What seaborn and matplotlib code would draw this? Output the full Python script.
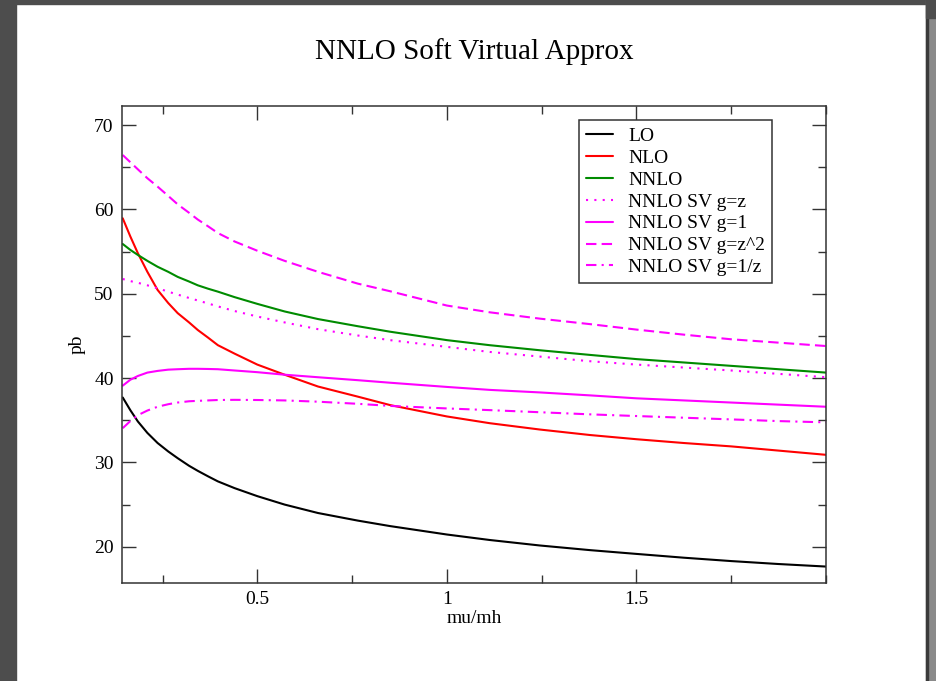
import matplotlib
matplotlib.use("Agg")
import matplotlib.pyplot as plt
from matplotlib.patches import Rectangle
from matplotlib.ticker import MultipleLocator
import seaborn as sns

# values
mu_ratio = [0.145, 0.165, 0.185, 0.21, 0.237, 0.265, 0.29, 0.32, 0.343, 0.37,
            0.396, 0.44, 0.5, 0.572, 0.66, 0.765, 0.85, 1.0, 1.113, 1.245,
            1.377, 1.5, 1.625, 1.75, 1.875, 2.0]
lo = [37.7, 36.2, 34.85, 33.5, 32.3, 31.3, 30.5, 29.6, 29.0, 28.35,
      27.75, 26.95, 26.0, 25.0, 24.0, 23.1, 22.45, 21.45, 20.8, 20.15,
      19.6, 19.15, 18.7, 18.3, 17.95, 17.65]
nlo = [58.95, 56.8, 54.8, 52.6, 50.45, 48.9, 47.7, 46.6, 45.7, 44.8,
       43.9, 42.9, 41.6, 40.4, 39.0, 37.8, 36.8, 35.45, 34.65, 33.9,
       33.25, 32.75, 32.3, 31.9, 31.4, 30.9]
nnlo = [55.9, 55.2, 54.6, 53.9, 53.2, 52.6, 52.0, 51.45, 51.0, 50.6,
        50.25, 49.6, 48.8, 47.9, 47.0, 46.15, 45.5, 44.5, 43.9, 43.3,
        42.75, 42.25, 41.85, 41.45, 41.05, 40.65]
sv_gz = [51.75, 51.5, 51.3, 51.0, 50.65, 50.25, 49.9, 49.5, 49.2, 48.85,
         48.5, 47.95, 47.3, 46.6, 45.8, 45.05, 44.5, 43.7, 43.1, 42.55,
         42.0, 41.6, 41.25, 40.9, 40.5, 40.1]
sv_g1 = [39.1, 39.8, 40.25, 40.65, 40.85, 41.0, 41.05, 41.1, 41.1, 41.08,
         41.05, 40.9, 40.7, 40.4, 40.1, 39.75, 39.45, 38.95, 38.6, 38.3,
         37.95, 37.6, 37.35, 37.1, 36.85, 36.6]
sv_gz2 = [66.45, 65.6, 64.75, 63.7, 62.7, 61.6, 60.6, 59.6, 58.8, 58.0,
          57.2, 56.2, 55.1, 53.9, 52.6, 51.2, 50.3, 48.6, 47.8, 47.05,
          46.4, 45.75, 45.15, 44.6, 44.2, 43.8]
sv_g1z = [34.06, 34.9, 35.6, 36.15, 36.6, 36.9, 37.1, 37.25, 37.3, 37.35,
          37.4, 37.42, 37.4, 37.35, 37.2, 36.95, 36.7, 36.4, 36.2, 35.95,
          35.7, 35.5, 35.3, 35.1, 34.9, 34.75]

series_labels = ["LO", "NLO", "NNLO", "NNLO SV g=z", "NNLO SV g=1",
                 "NNLO SV g=z^2", "NNLO SV g=1/z"]
series_values = [lo, nlo, nnlo, sv_gz, sv_g1, sv_gz2, sv_g1z]
series_colors = ["#000000", "#ff0000", "#008b00", "#ff00ff", "#ff00ff",
                 "#ff00ff", "#ff00ff"]
series_styles = ["-", "-", "-", (0, (1, 3)), "-", (0, (5, 2.5)),
                 (0, (5, 2.5, 1, 2.5))]

sns.set_theme(style="ticks")
plt.rcParams["font.family"] = ["Liberation Serif", "DejaVu Serif"]
plt.rcParams.update({
    "xtick.direction": "in", "ytick.direction": "in",
    "xtick.top": True, "ytick.right": True,
    "axes.edgecolor": "#333333", "xtick.color": "#333333",
    "ytick.color": "#333333", "axes.linewidth": 1.1,
    "text.color": "black", "axes.labelcolor": "black",
})

fig = plt.figure(figsize=(9.36, 6.81), dpi=100, facecolor="white")
ax = fig.add_axes([0.1303, 0.1439, 0.7522, 0.7009])

for vals, lab, col, ls in zip(series_values, series_labels, series_colors,
                              series_styles):
    sns.lineplot(x=mu_ratio, y=vals, ax=ax, color=col, linestyle=ls,
                 linewidth=1.5, label=lab)

ax.set_xlim(0.143, 2.0)
ax.set_ylim(15.7, 72.3)
ax.xaxis.set_major_locator(MultipleLocator(0.5))
ax.xaxis.set_minor_locator(MultipleLocator(0.25))
ax.yaxis.set_major_locator(MultipleLocator(10))
ax.yaxis.set_minor_locator(MultipleLocator(5))
ax.set_xticks([0.5, 1.0, 1.5])
ax.set_xticklabels(["0.5", "1", "1.5"])
ax.tick_params(which="major", length=10, width=1.0, labelsize=14, pad=6,
               labelcolor="black")
ax.tick_params(which="minor", length=5.5, width=1.0)

ax.set_xlabel("mu/mh", fontsize=14, labelpad=1)
ax.set_ylabel("pb", fontsize=14, labelpad=6)
ax.set_title("NNLO Soft Virtual Approx", fontsize=21, pad=33.5)

leg = ax.legend(loc="upper left", bbox_to_anchor=(0.649, 0.969),
                fontsize=14, frameon=True, fancybox=False, framealpha=1,
                edgecolor="#333333", handlelength=1.4, handletextpad=0.8,
                borderpad=0.35, labelspacing=0.22, borderaxespad=0)
leg.get_frame().set_linewidth(1.1)

# window frame around the page
fig.add_artist(Rectangle((0, 0), 16 / 936, 1, transform=fig.transFigure,
                         color="#4d4d4d", zorder=10))
fig.add_artist(Rectangle((0, 1 - 4 / 681), 1, 4 / 681,
                         transform=fig.transFigure, color="#4d4d4d", zorder=10))
fig.add_artist(Rectangle((926 / 936, 0), 10 / 936, 1,
                         transform=fig.transFigure, color="#8a8a8a", zorder=10))
fig.add_artist(Rectangle((926 / 936, 0), 2 / 936, 1,
                         transform=fig.transFigure, color="#3a3a3a", zorder=11))
fig.add_artist(Rectangle((926 / 936, 1 - 18 / 681), 10 / 936, 18 / 681,
                         transform=fig.transFigure, color="#4d4d4d", zorder=11))

fig.savefig("out.png", dpi=100, facecolor="white")
